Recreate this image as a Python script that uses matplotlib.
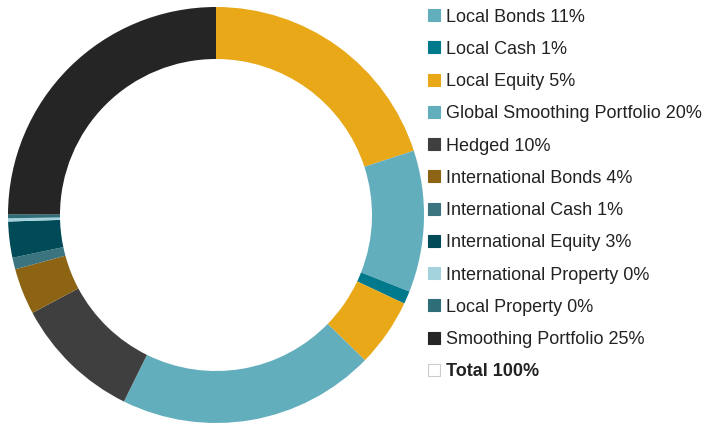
import matplotlib
matplotlib.use("Agg")
import matplotlib.pyplot as plt
from matplotlib.patches import Rectangle

# Slices in drawing order (clockwise from 12 o'clock)
slice_names = ["Unlisted Equity", "Local Bonds", "Local Cash", "Local Equity",
               "Global Smoothing Portfolio", "Hedged", "International Bonds",
               "International Cash", "International Equity",
               "International Property", "Local Property", "Smoothing Portfolio"]
slice_values = [20.0, 11.0, 1.0, 5.3, 20.0, 9.9, 3.6, 0.9, 2.8, 0.25, 0.3, 24.95]
slice_colors = ["#E8A817", "#63AEBD", "#00798C", "#E8A817", "#63AEBD", "#3F3F3F",
                "#8C6414", "#3B737E", "#004B57", "#A5D3DD", "#2E6E78", "#252525"]

legend_labels = ["Local Bonds 11%", "Local Cash 1%", "Local Equity 5%",
                 "Global Smoothing Portfolio 20%", "Hedged 10%",
                 "International Bonds 4%", "International Cash 1%",
                 "International Equity 3%", "International Property 0%",
                 "Local Property 0%", "Smoothing Portfolio 25%", "Total 100%"]
legend_colors = ["#63AEBD", "#00798C", "#E8A817", "#63AEBD", "#3F3F3F", "#8C6414",
                 "#3B737E", "#004B57", "#A5D3DD", "#2E6E78", "#252525", "#FFFFFF"]

W, H = 708, 423
fig = plt.figure(figsize=(W / 100, H / 100), dpi=100)

# donut axes: centre (216,215) px, radius 208 px
cx, cy, r = 216, 215, 208
ax = fig.add_axes([(cx - r) / W, (H - cy - r) / H, 2 * r / W, 2 * r / H])
ax.pie(slice_values, colors=slice_colors, startangle=90, counterclock=False,
       radius=1, wedgeprops=dict(width=0.25, linewidth=0))
ax.set_xlim(-1, 1)
ax.set_ylim(-1, 1)
ax.set_aspect("equal")
ax.axis("off")

# legend
y0, dy = 15, 32.27
for i, (lab, col) in enumerate(zip(legend_labels, legend_colors)):
    y = y0 + i * dy
    ec = "#CCCCCC" if col == "#FFFFFF" else col
    fig.patches.append(Rectangle(((428) / W, (H - y - 6) / H), 12 / W, 12 / H,
                                 transform=fig.transFigure, facecolor=col,
                                 edgecolor=ec, linewidth=0.8))
    fig.text(446 / W, (H - y) / H, lab, ha="left", va="center_baseline",
             fontsize=13, family="Liberation Sans", color="#222222",
             fontweight="bold" if lab.startswith("Total") else "normal")

fig.savefig("out.png", dpi=100)
